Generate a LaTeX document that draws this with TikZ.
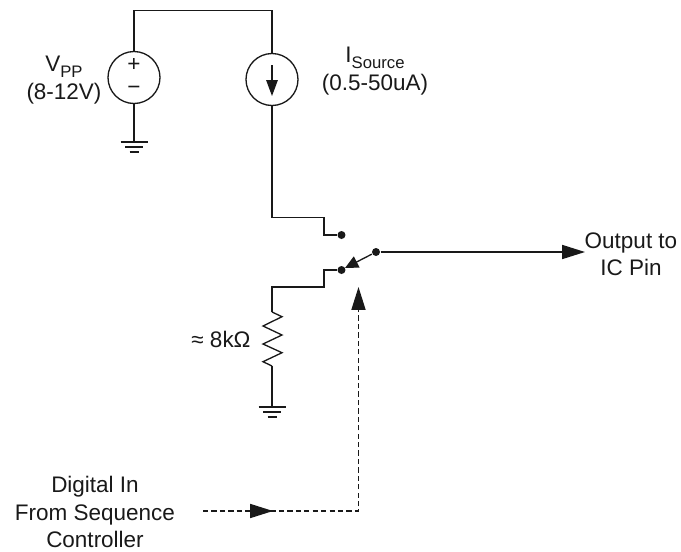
\documentclass[tikz,border=0pt]{standalone}
\usepackage{fontspec}
\setmainfont{Liberation Sans}
\usepackage{tikz}
\usetikzlibrary{calc}
\usetikzlibrary{arrows.meta}
\newcommand{\lowtxt}[1]{\raisebox{-0.45ex}{\fontsize{9.5}{10}\selectfont #1}}

\begin{document}
\begin{tikzpicture}[x=0.02cm, y=-0.02cm, line width=0.75pt, color={black!90},
	every node/.style={font=\fontsize{12.8}{15.6}\selectfont, align=center},
	source/.style={draw, circle, minimum size=1.04cm, inner sep=0pt},
	contact/.style={fill, circle, minimum size=0.16cm, inner sep=0pt},
	bigtip/.style={-{Triangle[length=13pt, width=8pt]}},
	dashwire/.style={dash pattern=on 3pt off 1.8pt},
	gnd/.pic={
		\draw (-13.5,0) -- (13.5,0);
		\draw (-9,5) -- (9,5);
		\draw (-4.5,10) -- (4.5,10);
	}]
		\useasboundingbox (0,0) rectangle (681,552);
		% sources
		\node[source] (vpp) at (134,77.5) {};
		\node[source] (isrc) at (272,79.5) {};
		\node at (134,65) {+};
		\node at (134,90) {−};
		\coordinate (isrctop) at (272,65);
		\coordinate (isrctip) at (272,96);
		\draw[-{Triangle[length=9pt, width=6.5pt]}] (isrctop) -- (isrctip);
		% switch contacts
		\node[contact] (upper) at (341.5,235) {};
		\node[contact] (lower) at (341.5,270) {};
		\node[contact] (common) at (376,252) {};
		\coordinate (armtip) at (345,268);
		\draw[-{Triangle[length=7.5pt, width=7pt]}] (common) -- (armtip);
		% top wire and grounds
		\coordinate (top) at (200,10.5);
		\draw (vpp.north) |- (top) -| (isrc.north);
		\coordinate (gndvpp) at (134,142);
		\draw (vpp.south) -- (gndvpp);
		\pic at (gndvpp) {gnd};
		% current source down to the upper contact
		\coordinate (bendup) at (324,217.5);
		\draw (isrc.south) |- (bendup) |- (upper);
		% lower contact through the resistor
		\coordinate (benddown) at (324,287);
		\coordinate (resin) at (272,312);
		\coordinate (resout) at (272,366);
		\coordinate (gndres) at (272,407);
		\draw (lower) -| (benddown) -| (resin);
		\draw (resin) -- ++(10,4.7) -- ++(-19,9.3) -- ++(19,9) -- ++(-19,9) -- ++(19,8.7) -- ++(-19,9) -- (resout);
		\draw (resout) -- (gndres);
		\pic at (gndres) {gnd};
		% output
		\node (output) at (631,254) {Output to\\IC Pin};
		\coordinate (outtip) at (585,252);
		\draw[bigtip] (common) -- (outtip);
		% digital control
		\node (digital) at (95,512) {Digital In\\From Sequence\\Controller};
		\coordinate (ctrlin) at (203,511);
		\coordinate (ctrlmid) at (273,511);
		\coordinate (ctrlcorner) at (358.5,511);
		\coordinate (ctrltip) at (358.5,287);
		\draw[dashwire] (ctrlin) -- (ctrlcorner) -- (ctrltip |- 0,308);
		\draw[bigtip] (250,511) -- (ctrlmid);
		\draw[bigtip, dash pattern=on 0pt off 100pt] (ctrltip |- 0,310) -- (ctrltip);
		% add labels
		\node (vpplabel) at (64,80) {V\lowtxt{PP}\\(8-12V)};
		\node (isrclabel) at (375,71) {I\lowtxt{Source}\\(0.5-50uA)};
		\node (reslabel) at (221,339) {≈ 8kΩ};
	\end{tikzpicture}
\end{document}
